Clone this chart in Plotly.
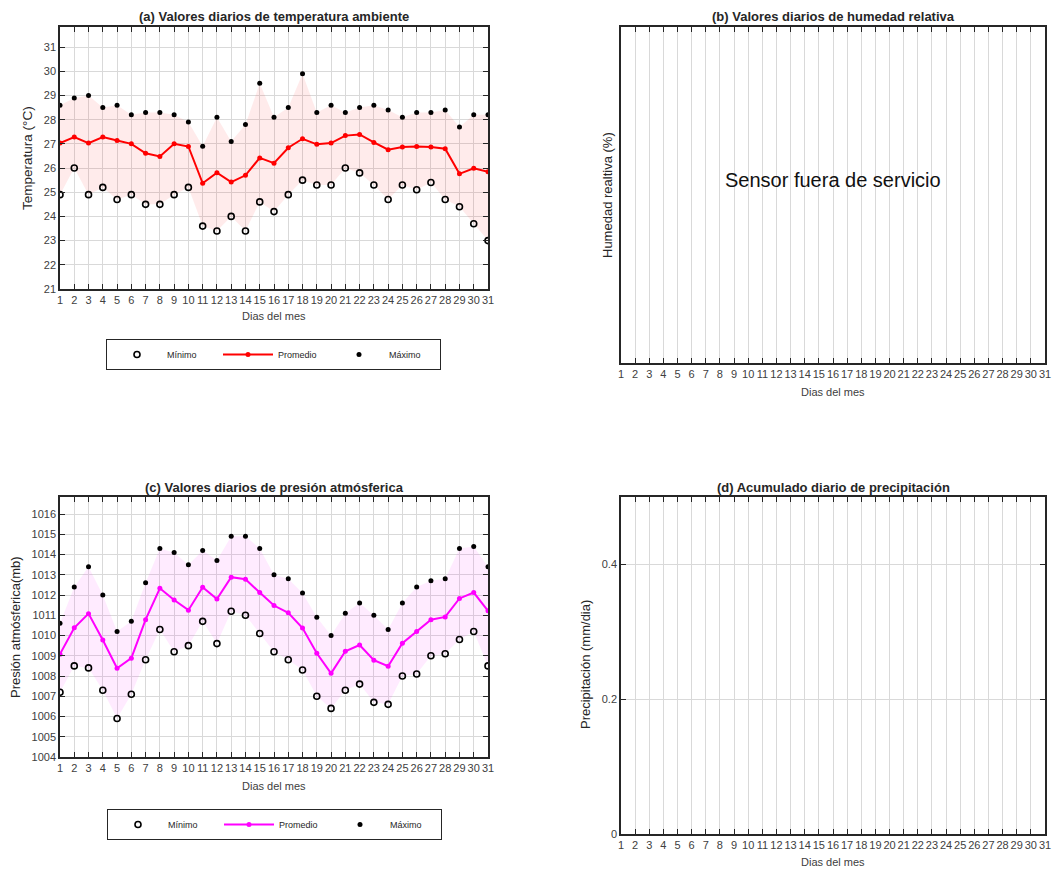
import plotly.graph_objects as go

W, H = 1054, 869
days = list(range(1, 32))
day_labels = [str(d) for d in days]

temp_max = [28.6, 28.9, 29.0, 28.5, 28.6, 28.2, 28.3, 28.3, 28.2, 27.9,
            26.9, 28.1, 27.1, 27.8, 29.5, 28.1, 28.5, 29.9, 28.3, 28.6,
            28.3, 28.5, 28.6, 28.4, 28.1, 28.3, 28.3, 28.4, 27.7, 28.2, 28.2]
temp_avg = [27.03, 27.28, 27.03, 27.28, 27.14, 27.0, 26.61, 26.48, 27.0, 26.89,
            25.37, 25.81, 25.42, 25.7, 26.42, 26.2, 26.84, 27.21, 26.98, 27.03,
            27.34, 27.39, 27.06, 26.76, 26.87, 26.89, 26.87, 26.8, 25.76, 25.99, 25.85]
temp_min = [24.9, 26.0, 24.9, 25.2, 24.7, 24.9, 24.5, 24.5, 24.9, 25.2,
            23.6, 23.4, 24.0, 23.4, 24.6, 24.2, 24.9, 25.5, 25.3, 25.3,
            26.0, 25.8, 25.3, 24.7, 25.3, 25.1, 25.4, 24.7, 24.4, 23.7, 23.0]

pres_max = [1010.6, 1012.4, 1013.4, 1012.0, 1010.2, 1010.7, 1012.6, 1014.3, 1014.1, 1013.5,
            1014.2, 1013.7, 1014.9, 1014.9, 1014.3, 1013.0, 1012.8, 1012.1, 1010.9, 1010.0,
            1011.1, 1011.6, 1011.0, 1010.3, 1011.6, 1012.4, 1012.7, 1012.8, 1014.3, 1014.4, 1013.4]
pres_avg = [1009.08, 1010.38, 1011.08, 1009.78, 1008.38, 1008.88, 1010.78, 1012.33, 1011.75, 1011.25,
            1012.38, 1011.8, 1012.88, 1012.78, 1012.12, 1011.48, 1011.12, 1010.37, 1009.12, 1008.13,
            1009.22, 1009.53, 1008.78, 1008.48, 1009.62, 1010.2, 1010.78, 1010.92, 1011.83, 1012.12, 1011.22]
pres_min = [1007.2, 1008.5, 1008.4, 1007.3, 1005.9, 1007.1, 1008.8, 1010.3, 1009.2, 1009.5,
            1010.7, 1009.6, 1011.2, 1011.0, 1010.1, 1009.2, 1008.8, 1008.3, 1007.0, 1006.4,
            1007.3, 1007.6, 1006.7, 1006.6, 1008.0, 1008.1, 1009.0, 1009.1, 1009.8, 1010.2, 1008.5]

temp_ticks = list(range(21, 32))
pres_ticks = list(range(1004, 1017))
prec_ticks = [0, 0.2, 0.4]

FONT = "Liberation Sans, Arial, sans-serif"
AX = "#262626"
GRID = "#d9d9d9"

def px(x):
    return x / W

def py(y):
    return 1 - y / H

fig = go.Figure()

def add_panel(xa, ya, vmax, vavg, vmin, color, fillcolor, legend):
    fig.add_trace(go.Scatter(x=days, y=vmax, mode="lines", line=dict(width=0),
                             hoverinfo="skip", showlegend=False, xaxis=xa, yaxis=ya))
    fig.add_trace(go.Scatter(x=days, y=vmin, mode="lines", line=dict(width=0),
                             fill="tonexty", fillcolor=fillcolor,
                             hoverinfo="skip", showlegend=False, xaxis=xa, yaxis=ya))
    fig.add_trace(go.Scatter(x=days, y=vmin, mode="markers", name="Mínimo",
                             marker=dict(symbol="circle-open", size=6, color="black",
                                         line=dict(width=1.6, color="black")),
                             legend=legend, xaxis=xa, yaxis=ya))
    fig.add_trace(go.Scatter(x=days, y=vavg, mode="lines+markers", name="Promedio",
                             line=dict(color=color, width=2),
                             marker=dict(symbol="circle", size=5, color=color),
                             legend=legend, xaxis=xa, yaxis=ya))
    fig.add_trace(go.Scatter(x=days, y=vmax, mode="markers", name="Máximo",
                             marker=dict(symbol="circle", size=5, color="black"),
                             legend=legend, xaxis=xa, yaxis=ya))

add_panel("x", "y", temp_max, temp_avg, temp_min, "#ff0000", "rgba(255,0,0,0.08)", "legend")
add_panel("x3", "y3", pres_max, pres_avg, pres_min, "#ff00ff", "rgba(255,0,255,0.08)", "legend2")

# empty panels
fig.add_trace(go.Scatter(x=[None], y=[None], mode="markers", showlegend=False,
                         hoverinfo="skip", xaxis="x2", yaxis="y2"))
fig.add_trace(go.Scatter(x=[None], y=[None], mode="markers", showlegend=False,
                         hoverinfo="skip", xaxis="x4", yaxis="y4"))

dom_left = [px(60), px(488)]
dom_right = [px(621), px(1045)]

def xaxis_cfg(anchor, domain):
    return dict(domain=domain, anchor=anchor, range=[1, 31], tickmode="array",
                tickvals=days, ticktext=day_labels, ticks="inside", ticklen=5,
                tickcolor=AX, tickwidth=1, showline=True, linecolor=AX, linewidth=1.5,
                mirror="ticks", showgrid=True, gridcolor=GRID, gridwidth=1,
                tickangle=0, zeroline=False, automargin=False,
                tickfont=dict(family=FONT, size=11, color="#404040"),
                fixedrange=True)

def yaxis_cfg(anchor, domain, rng, ticks, showgrid=True, showticks=True):
    cfg = dict(domain=domain, anchor=anchor, range=rng, showline=True, linecolor=AX,
               linewidth=1.5, mirror="ticks" if showticks else True, zeroline=False,
               showgrid=showgrid, gridcolor=GRID, gridwidth=1, automargin=False,
               tickfont=dict(family=FONT, size=11, color="#404040"), fixedrange=True)
    if showticks:
        cfg.update(tickmode="array", tickvals=ticks, ticktext=[str(t) for t in ticks],
                   ticks="inside", ticklen=5, tickcolor=AX, tickwidth=1)
    else:
        cfg.update(showticklabels=False, ticks="")
    return cfg

legend_common = dict(orientation="h", xanchor="left", yanchor="top",
                     bordercolor=AX, borderwidth=1, bgcolor="white",
                     font=dict(family=FONT, size=9, color=AX),
                     itemwidth=50, entrywidth=46, entrywidthmode="pixels",
                     traceorder="normal", tracegroupgap=0)

fig.update_layout(
    width=W, height=H, margin=dict(l=0, r=0, t=0, b=0, pad=0, autoexpand=False),
    paper_bgcolor="white", plot_bgcolor="white",
    font=dict(family=FONT, color=AX),
    xaxis=xaxis_cfg("y", dom_left),
    yaxis=yaxis_cfg("x", [py(289), py(27)], [21, 31.83], temp_ticks),
    xaxis2=xaxis_cfg("y2", dom_right),
    yaxis2=yaxis_cfg("x2", [py(363), py(27)], [0, 1], [], showgrid=False, showticks=False),
    xaxis3=xaxis_cfg("y3", dom_left),
    yaxis3=yaxis_cfg("x3", [py(757), py(497)], [1004, 1016.84], pres_ticks),
    xaxis4=xaxis_cfg("y4", dom_right),
    yaxis4=yaxis_cfg("x4", [py(834), py(497)], [0, 0.5], prec_ticks),
    legend=dict(x=px(106), y=py(339), **legend_common),
    legend2=dict(x=px(107), y=py(809), **legend_common),
    showlegend=True,
)

ann = []
def text(x, y, s, size=12, bold=False, angle=0, color=AX):
    ann.append(dict(x=x, y=y, xref="paper", yref="paper", text=f"<b>{s}</b>" if bold else s,
                    showarrow=False, textangle=angle, xanchor="center", yanchor="middle",
                    font=dict(family=FONT, size=size, color=color)))

text(px(274), py(16), "(a) Valores diarios de temperatura ambiente", 13, True)
text(px(833), py(16), "(b) Valores diarios de humedad relativa", 13, True)
text(px(274), py(487), "(c) Valores diarios de presión atmósferica", 13, True)
text(px(833), py(487), "(d) Acumulado diario de precipitación", 13, True)

text(px(274), py(316), "Dias del mes", 11, color="#404040")
text(px(833), py(392), "Dias del mes", 11, color="#404040")
text(px(274), py(786), "Dias del mes", 11, color="#404040")
text(px(833), py(862), "Dias del mes", 11, color="#404040")

text(px(27), py(158), "Temperatura (°C)", 13.5, angle=-90)
text(px(607), py(195), "Humedad realtiva (%)", 13, angle=-90)
text(px(15), py(627), "Presión atmósferica(mb)", 13, angle=-90)
text(px(585), py(665), "Precipitación (mm/dia)", 13, angle=-90)

text(px(833), py(180), "Sensor fuera de servicio", 20, color="#111111")

fig.update_layout(annotations=ann)

post = (
    "document.documentElement.style.margin='0';"
    "document.documentElement.style.overflow='hidden';"
    "document.body.style.margin='0';"
    "document.body.style.overflow='hidden';"
)
fig.write_html("out.html", config={"displayModeBar": False}, post_script=post)
